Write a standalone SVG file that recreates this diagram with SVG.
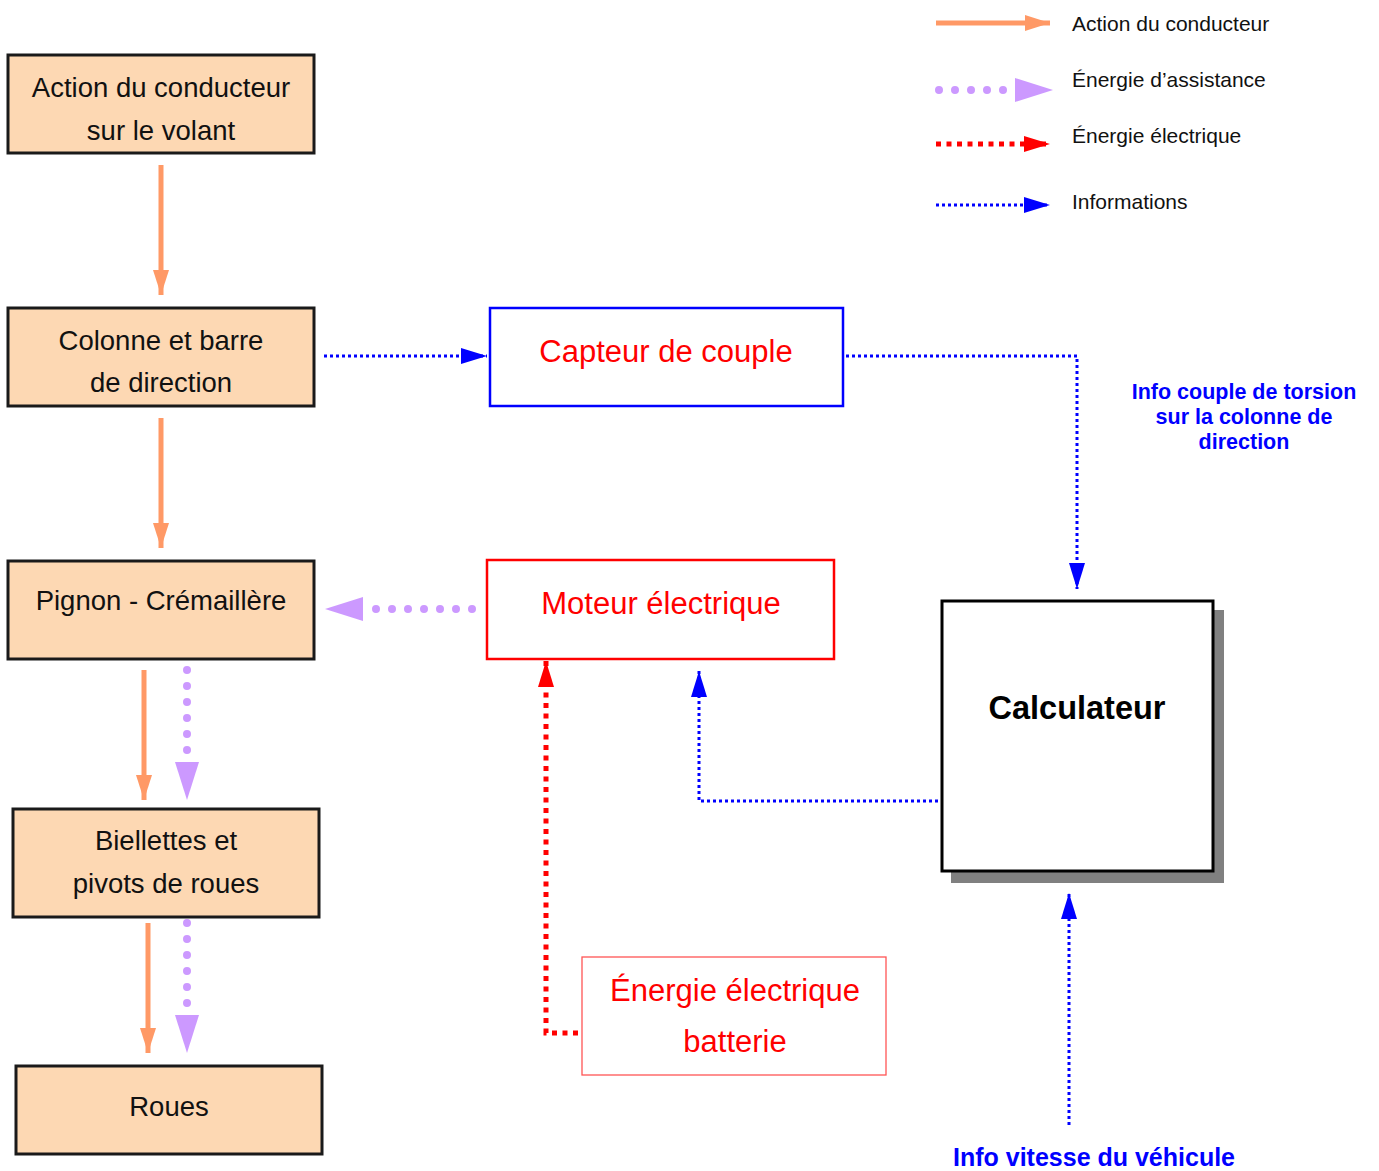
<svg xmlns="http://www.w3.org/2000/svg" width="1379" height="1171" viewBox="0 0 1379 1171">
<style>
.box{fill:#FDD8B3;stroke:#1a1a1a;stroke-width:3}
.hand{font-family:"Liberation Sans","Open Sans",sans-serif;font-size:27.5px;fill:#111;text-anchor:middle}
.red{font-family:"Liberation Sans","Open Sans",sans-serif;font-size:31px;fill:#FF0000;text-anchor:middle}
.leg{font-family:"Liberation Sans",Arial,sans-serif;font-size:21px;fill:#111}
.info{font-family:"Liberation Sans",Arial,sans-serif;font-weight:bold;fill:#0000FF;text-anchor:middle}
.orange{fill:none;stroke:#FF9966;stroke-width:5;marker-end:url(#hOrange)}
.purple{fill:none;stroke:#CC99FF;stroke-width:8;stroke-linecap:round;stroke-dasharray:0 16;marker-end:url(#hPurple)}
.redl{fill:none;stroke:#FF0000;stroke-width:5;stroke-dasharray:5 5.5;marker-end:url(#hRed)}
.blue{fill:none;stroke:#0000FF;stroke-width:3;stroke-dasharray:3 3;marker-end:url(#hBlue)}
</style>
<defs>
<marker id="hOrange" markerUnits="userSpaceOnUse" markerWidth="26" markerHeight="16" refX="25" refY="8" orient="auto"><path d="M0,0 L25,8 L0,16 Z" fill="#FF9966"/></marker>
<marker id="hPurple" markerUnits="userSpaceOnUse" markerWidth="40" markerHeight="24" refX="0" refY="12" orient="auto"><path d="M0,0 L38,12 L0,24 Z" fill="#CC99FF"/></marker>
<marker id="hRed" markerUnits="userSpaceOnUse" markerWidth="27" markerHeight="16" refX="26" refY="8" orient="auto"><path d="M0,0 L26,8 L0,16 Z" fill="#FF0000"/></marker>
<marker id="hBlue" markerUnits="userSpaceOnUse" markerWidth="27" markerHeight="16" refX="26" refY="8" orient="auto"><path d="M0,0 L26,8 L0,16 Z" fill="#0000FF"/></marker>
</defs>
<rect width="1379" height="1171" fill="#fff"/>

<g id="legend">
<path class="orange" d="M936,23 H1050"/>
<path class="purple" d="M939,90 H1015"/>
<path class="redl" d="M936,144 H1050"/>
<path class="blue" d="M936,205 H1050"/>
<text class="leg" x="1072" y="31">Action du conducteur</text>
<text class="leg" x="1072" y="87">Énergie d’assistance</text>
<text class="leg" x="1072" y="143">Énergie électrique</text>
<text class="leg" x="1072" y="209">Informations</text>
</g>

<g id="connectors">
<path class="orange" d="M161,165 V295"/>
<path class="orange" d="M161,418 V548"/>
<path class="orange" d="M144,670 V800"/>
<path class="purple" d="M187,670 V762"/>
<path class="orange" d="M148,923 V1053"/>
<path class="purple" d="M187,923 V1015"/>
<path class="blue" d="M324,356 H487"/>
<path class="blue" d="M846,356 H1077 V589"/>
<path class="purple" d="M472,609 H363"/>
<path class="blue" d="M938,801 H699 V671"/>
<path class="redl" d="M578,1033 H546 V661"/>
<path class="blue" d="M1069,1125 V893"/>
</g>

<g id="action">
<rect class="box" x="8" y="55" width="306" height="98"/>
<text class="hand" x="161" y="97">Action du conducteur</text>
<text class="hand" x="161" y="140">sur le volant</text>
</g>
<g id="colonne">
<rect class="box" x="8" y="308" width="306" height="98"/>
<text class="hand" x="161" y="350">Colonne et barre</text>
<text class="hand" x="161" y="392">de direction</text>
</g>
<g id="pignon">
<rect class="box" x="8" y="561" width="306" height="98"/>
<text class="hand" x="161" y="610">Pignon - Crémaillère</text>
</g>
<g id="biellettes">
<rect class="box" x="13" y="809" width="306" height="108"/>
<text class="hand" x="166" y="850">Biellettes et</text>
<text class="hand" x="166" y="893">pivots de roues</text>
</g>
<g id="roues">
<rect class="box" x="16" y="1066" width="306" height="88"/>
<text class="hand" x="169" y="1116">Roues</text>
</g>
<g id="capteur">
<rect x="490" y="308" width="353" height="98" fill="#fff" stroke="#0000FF" stroke-width="2.5"/>
<text class="red" x="666" y="362">Capteur de couple</text>
</g>
<g id="moteur">
<rect x="487" y="560" width="347" height="99" fill="#fff" stroke="#FF0000" stroke-width="2.5"/>
<text class="red" x="661" y="614">Moteur électrique</text>
</g>
<g id="batterie">
<rect x="582" y="957" width="304" height="118" fill="#fff" stroke="#FF5555" stroke-width="1.3"/>
<text class="red" x="735" y="1001">Énergie électrique</text>
<text class="red" x="735" y="1052">batterie</text>
</g>
<g id="calculateur">
<rect x="951" y="610" width="273" height="273" fill="#808080"/>
<rect x="942" y="601" width="271" height="270" fill="#fff" stroke="#000" stroke-width="3"/>
<text x="1077" y="719" font-family="Liberation Sans, Arial, sans-serif" font-weight="bold" font-size="32.5" text-anchor="middle" fill="#000">Calculateur</text>
</g>
<g id="info-couple">
<text class="info" font-size="21.5" x="1244" y="399">Info couple de torsion</text>
<text class="info" font-size="21.5" x="1244" y="424">sur la colonne de</text>
<text class="info" font-size="21.5" x="1244" y="449">direction</text>
</g>
<g id="info-vitesse">
<text class="info" font-size="25" x="1094" y="1166">Info vitesse du véhicule</text>
</g>
</svg>
